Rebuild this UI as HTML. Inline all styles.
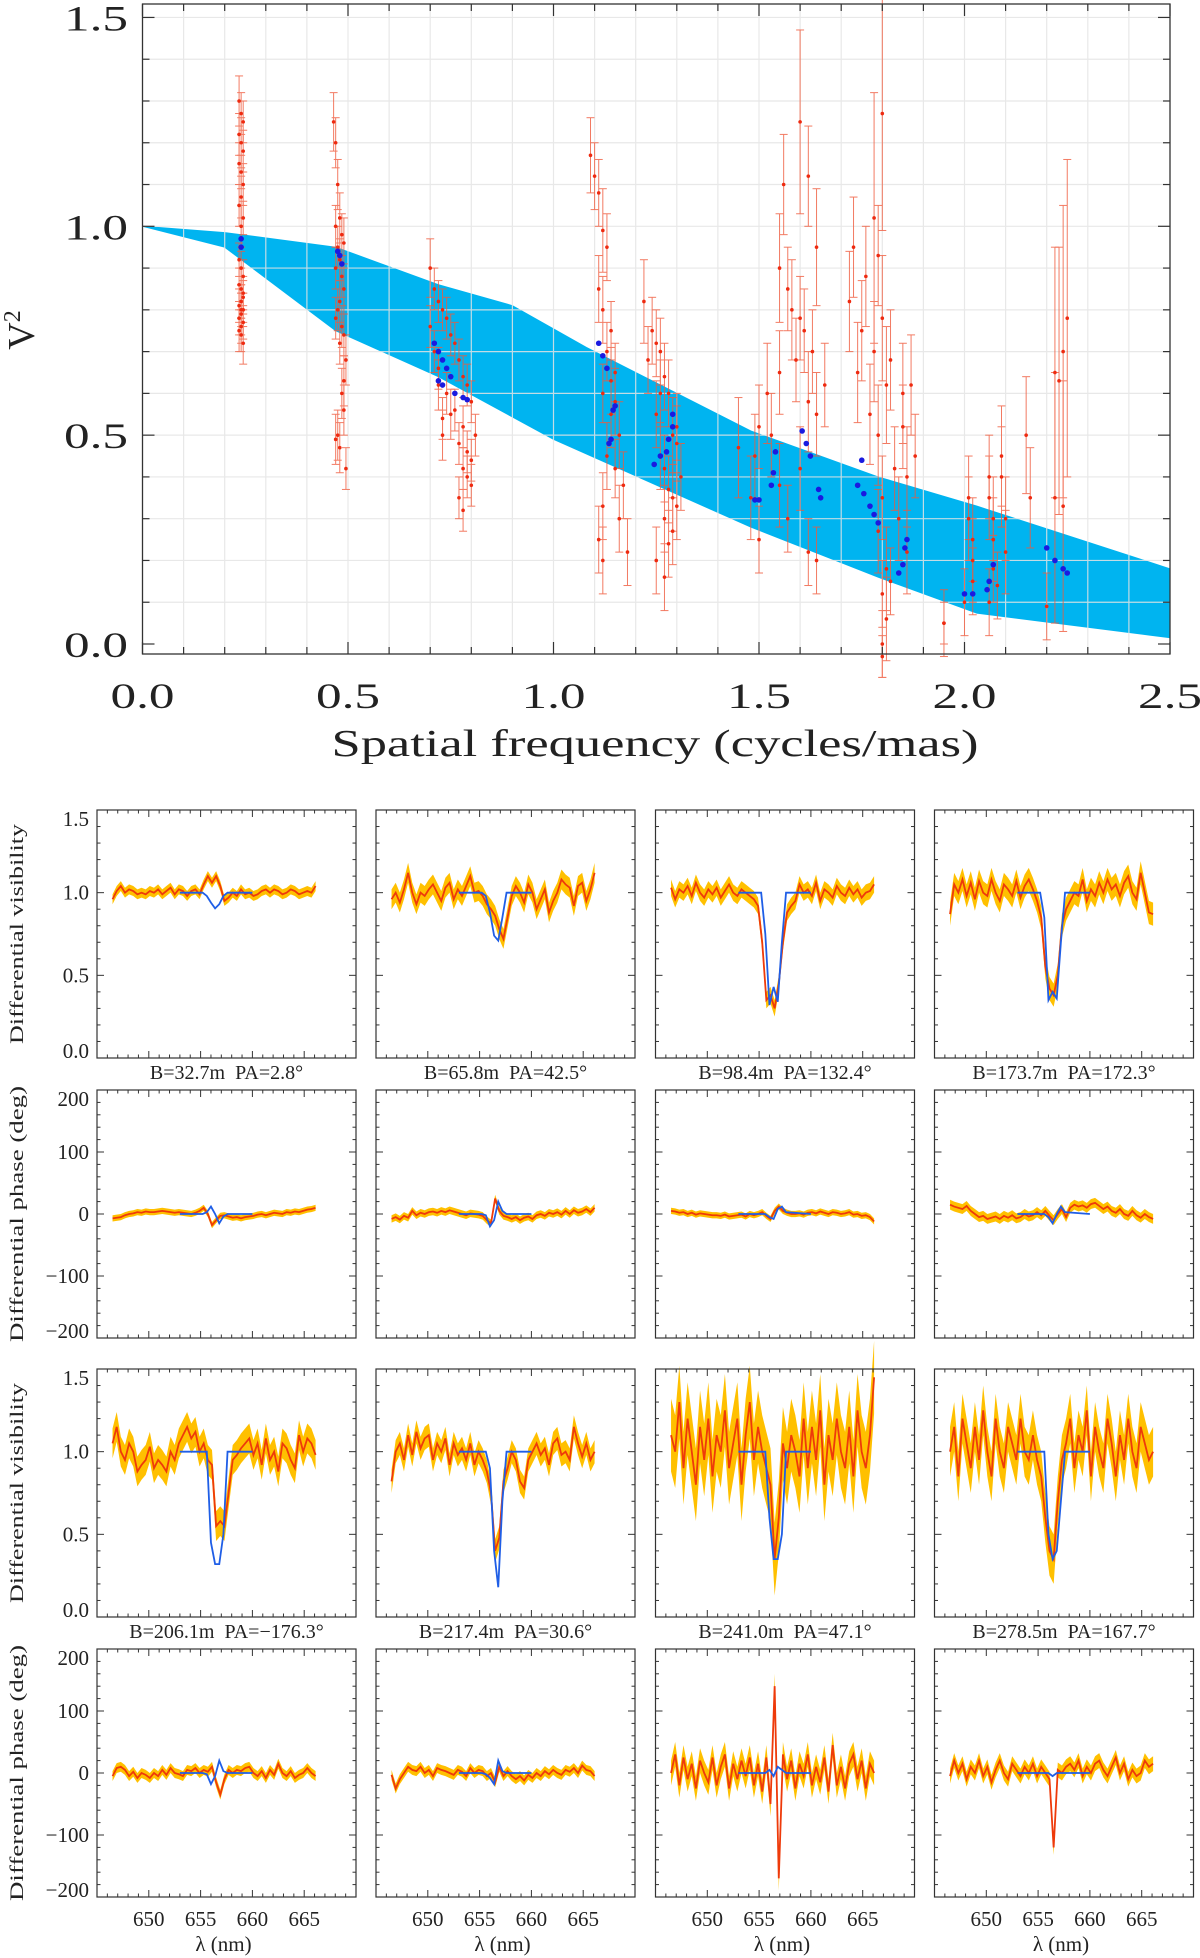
<!DOCTYPE html>
<html><head><meta charset="utf-8"><style>
html,body{margin:0;padding:0;background:#fff;}
svg{display:block;font-family:"Liberation Serif",serif;}
</style></head><body>
<svg id="fig" width="1200" height="1958" viewBox="0 0 1200 1958" xmlns="http://www.w3.org/2000/svg"></svg>
<script>
// ---------- Top chart data ----------
const bandFreq = [0,0.2,0.47,0.72,0.9,1.08,1.48,1.79,2.03,2.5];
const bandUpper = [1.0,0.985,0.95,0.86,0.81,0.71,0.51,0.40,0.33,0.18];
const bandLowerFreq = [0,0.2,0.47,0.72,1.0,1.48,1.79,2.03,2.5];
const bandLower = [1.0,0.95,0.75,0.64,0.49,0.28,0.16,0.074,0.015];
const sfFreq = [0.235,0.24,0.245,0.235,0.24,0.245,0.235,0.24,0.245,0.24,0.235,0.245,0.24,0.235,0.24,0.245,0.235,0.24,0.245,0.24,0.235,0.245,0.24,0.235,0.245,0.24,0.235,0.24,0.245,0.24,0.245,
0.465,0.47,0.475,0.48,0.47,0.485,0.49,0.475,0.48,0.47,0.485,0.49,0.48,0.475,0.47,0.485,0.49,0.48,0.495,0.49,0.485,0.49,0.475,0.47,0.48,0.495,
0.70,0.71,0.72,0.73,0.74,0.70,0.75,0.76,0.71,0.77,0.72,0.78,0.79,0.74,0.80,0.76,0.73,0.78,0.81,0.77,0.79,0.80,0.78,0.79,0.80,0.77,0.78,0.72,0.75,0.73,
1.09,1.10,1.11,1.12,1.13,1.11,1.12,1.14,1.13,1.15,1.12,1.14,1.16,1.13,1.15,1.17,1.12,1.16,1.11,1.12,1.18,1.14,1.15,
1.22,1.24,1.25,1.26,1.23,1.27,1.28,1.25,1.29,1.30,1.26,1.27,1.31,1.28,1.29,1.30,1.27,1.29,1.28,1.25,1.27,1.26,1.30,
1.60,1.62,1.56,1.64,1.55,1.57,1.58,1.60,1.61,1.63,1.59,1.55,1.66,1.52,1.62,1.64,1.50,1.53,1.45,1.49,1.60,1.55,1.48,1.57,1.50,1.62,1.64,
1.80,1.78,1.79,1.73,1.76,1.72,1.80,1.75,1.78,1.82,1.74,1.81,1.85,1.77,1.79,1.88,1.83,1.86,1.80,1.84,1.79,1.86,1.81,1.82,1.80,1.95,1.80,1.81,1.80,1.87,1.85,
1.95,2.00,2.01,2.01,2.02,2.02,2.02,2.06,2.06,2.07,2.07,2.07,2.06,2.09,2.09,2.10,2.10,2.08,2.15,2.16,2.20,2.22,2.23,2.22,2.24,2.25,2.24];
const sfV2 = [1.30,1.27,1.25,1.22,1.20,1.18,1.15,1.13,1.10,1.07,1.05,1.02,1.00,0.92,0.90,0.88,0.86,0.85,0.83,0.82,0.81,0.80,0.79,0.78,0.77,0.76,0.75,0.74,0.72,0.80,0.84,
1.25,1.20,1.10,1.02,1.00,0.98,0.96,0.95,0.92,0.90,0.88,0.85,0.82,0.80,0.78,0.76,0.74,0.72,0.68,0.63,0.60,0.56,0.50,0.49,0.47,0.42,
0.90,0.85,0.82,0.80,0.78,0.76,0.74,0.72,0.70,0.68,0.66,0.64,0.62,0.60,0.58,0.56,0.54,0.52,0.50,0.48,0.46,0.44,0.42,0.40,0.38,0.35,0.32,0.62,0.55,0.50,
1.17,1.12,1.08,0.99,0.95,0.85,0.80,0.75,0.70,0.65,0.60,0.55,0.50,0.45,0.42,0.38,0.33,0.30,0.25,0.20,0.22,0.63,0.58,
0.82,0.75,0.72,0.70,0.68,0.64,0.60,0.55,0.50,0.48,0.45,0.42,0.40,0.37,0.35,0.33,0.30,0.27,0.24,0.20,0.16,0.60,0.52,
1.25,1.12,1.10,0.95,0.90,0.85,0.80,0.78,0.75,0.70,0.68,0.65,0.62,0.60,0.58,0.55,0.52,0.50,0.47,0.45,0.42,0.38,0.35,0.30,0.25,0.22,0.20,
1.27,1.02,0.93,0.95,0.88,0.82,0.78,0.75,0.70,0.68,0.65,0.62,0.60,0.55,0.50,0.45,0.42,0.40,0.35,0.30,0.27,0.22,0.18,0.15,0.12,0.05,0.00,0.06,-0.03,0.62,0.52,
0.05,0.10,0.35,0.30,0.25,0.20,0.15,0.40,0.35,0.30,0.25,0.18,0.10,0.45,0.40,0.30,0.22,0.14,0.50,0.35,0.09,0.65,0.63,0.35,0.33,0.78,0.70];
const sfErr = [0.06,0.05,0.05,0.05,0.06,0.05,0.05,0.04,0.05,0.05,0.05,0.04,0.05,0.04,0.04,0.04,0.04,0.05,0.04,0.04,0.04,0.04,0.05,0.04,0.04,0.04,0.05,0.04,0.05,0.04,0.04,
0.07,0.06,0.06,0.06,0.05,0.05,0.06,0.05,0.05,0.05,0.05,0.06,0.05,0.05,0.05,0.05,0.05,0.05,0.06,0.06,0.06,0.06,0.06,0.06,0.06,0.05,
0.07,0.05,0.05,0.05,0.05,0.05,0.05,0.05,0.05,0.05,0.05,0.05,0.05,0.05,0.05,0.05,0.05,0.05,0.05,0.05,0.05,0.05,0.05,0.05,0.05,0.05,0.05,0.06,0.06,0.06,
0.09,0.08,0.08,0.10,0.08,0.08,0.08,0.07,0.07,0.07,0.07,0.08,0.08,0.08,0.07,0.08,0.08,0.08,0.08,0.08,0.08,0.08,0.08,
0.10,0.08,0.08,0.08,0.08,0.08,0.08,0.08,0.09,0.09,0.08,0.08,0.08,0.08,0.08,0.08,0.08,0.08,0.08,0.08,0.08,0.08,0.08,
0.22,0.12,0.12,0.14,0.13,0.10,0.12,0.10,0.10,0.10,0.10,0.10,0.10,0.12,0.12,0.10,0.10,0.10,0.12,0.10,0.10,0.10,0.10,0.08,0.08,0.08,0.08,
0.28,0.30,0.12,0.12,0.12,0.12,0.15,0.12,0.12,0.12,0.12,0.14,0.12,0.12,0.12,0.10,0.10,0.12,0.10,0.10,0.10,0.10,0.10,0.08,0.08,0.08,0.08,0.10,0.05,0.12,0.10,
0.05,0.08,0.10,0.10,0.10,0.10,0.08,0.10,0.10,0.10,0.10,0.08,0.08,0.12,0.12,0.10,0.10,0.08,0.14,0.12,0.08,0.30,0.32,0.30,0.30,0.38,0.35];
const modelFreq = [0.24,0.24,0.475,0.48,0.485,0.71,0.72,0.73,0.74,0.75,0.72,0.73,0.76,0.78,0.79,1.11,1.12,1.13,1.15,1.145,1.14,1.135,1.245,1.26,1.275,1.28,1.29,1.29,1.49,1.50,1.53,1.535,1.54,1.605,1.615,1.625,1.645,1.65,1.75,1.74,1.755,1.77,1.78,1.79,1.84,1.85,1.855,1.86,2.0,2.02,2.055,2.06,2.07,2.2,2.22,2.24,2.25];
const modelV2 = [0.97,0.95,0.94,0.93,0.91,0.72,0.70,0.68,0.66,0.64,0.63,0.62,0.60,0.59,0.585,0.72,0.69,0.66,0.57,0.56,0.49,0.48,0.43,0.45,0.46,0.49,0.52,0.55,0.345,0.345,0.38,0.41,0.46,0.51,0.48,0.45,0.37,0.35,0.44,0.38,0.36,0.33,0.31,0.29,0.17,0.19,0.23,0.25,0.12,0.12,0.13,0.15,0.19,0.23,0.20,0.18,0.17];
const xTicks = ["0.0","0.5","1.0","1.5","2.0","2.5"];
const yTicks = ["0.0","0.5","1.0","1.5"];

// ---------- Panel data ----------
const lamStart = 646.5, lamStep = 0.4;
const modelLam = [653,655.2,655.6,656.0,656.4,656.8,657.2,657.6,660];
const captions = ["B=32.7m  PA=2.8°","B=65.8m  PA=42.5°","B=98.4m  PA=132.4°","B=173.7m  PA=172.3°","B=206.1m  PA=\u2212176.3°","B=217.4m  PA=30.6°","B=241.0m  PA=47.1°","B=278.5m  PA=167.7°"];
const bandErr = [0.03,0.06,0.05,0.07,5,6,5,8,0.09,0.07,0.22,0.15,8,8,20,12];
const p1 = [0.96,1.01,1.04,1.00,1.02,1.01,0.99,1.00,0.99,1.01,1.00,1.02,0.99,1.01,1.03,0.99,1.02,1.01,0.98,1.01,1.02,0.99,1.05,1.10,1.06,1.10,1.04,0.95,0.97,1.00,0.98,1.02,0.99,1.00,0.98,0.99,1.01,1.02,1.00,1.02,1.01,0.99,1.00,1.02,1.01,0.99,1.00,1.01,1.00,1.04];
const p2 = [0.96,1.00,0.94,1.02,1.12,1.00,0.93,1.00,0.98,1.02,1.05,1.00,0.95,1.03,1.06,0.96,1.02,0.98,1.04,1.10,1.00,1.01,0.98,0.93,0.90,0.86,0.78,0.72,0.85,0.98,1.04,1.00,0.94,1.05,1.00,0.90,0.96,1.02,0.88,0.95,1.00,1.08,1.05,1.03,0.92,1.04,1.06,0.95,1.02,1.12];
const p3 = [1.03,0.96,1.02,1.00,1.04,0.98,1.06,1.00,0.97,1.02,0.99,1.03,0.97,1.01,1.05,1.00,0.98,1.02,1.00,0.98,0.96,0.92,0.70,0.35,0.38,0.30,0.45,0.70,0.88,0.92,0.95,1.05,1.00,1.02,0.98,1.06,0.95,1.02,1.00,0.97,1.04,1.00,0.98,1.03,0.99,1.02,0.97,1.00,1.01,1.05];
const p4 = [0.87,1.05,1.00,1.08,0.98,1.06,0.96,1.07,1.00,0.98,1.08,1.00,0.95,1.05,1.02,0.98,1.07,0.97,1.04,1.08,1.02,0.95,0.85,0.55,0.42,0.38,0.50,0.80,0.90,0.95,1.00,0.98,1.08,0.95,1.02,0.98,1.06,1.00,1.08,1.02,1.05,0.98,1.06,1.10,1.00,0.96,1.12,1.00,0.88,0.87];
const p5 = [-7,-6,-5,-2,0,1,3,2,4,3,3,4,5,4,3,2,3,2,1,0,2,5,10,0,-18,-10,-3,-2,-4,-6,-5,-7,-5,-4,-3,-1,0,-2,0,2,1,0,3,2,4,3,5,7,8,10];
const p6 = [-8,-5,-9,-3,-6,5,-2,2,0,3,4,2,5,3,6,4,2,0,-2,1,0,-1,-3,-10,-15,25,5,-3,-5,-8,-5,-10,-6,-4,-8,-2,0,-3,2,0,3,-1,5,0,6,2,4,8,3,10];
const p7 = [5,4,2,3,0,2,-1,1,0,-1,-2,-2,-3,-1,-4,-3,-2,-1,-4,0,-2,0,3,-3,-8,5,12,5,2,0,0,1,-1,2,3,1,4,2,0,3,2,0,1,3,-1,0,-3,-2,-5,-12];
const p8 = [15,12,10,8,13,5,0,-5,-3,-8,-6,-4,-8,-3,-6,-2,-7,-5,0,-4,-2,3,-2,5,-3,-10,0,8,-5,10,15,12,14,10,16,18,13,8,12,5,2,8,0,-3,5,-2,-6,0,-5,-8];
const p9 = [1.05,1.15,1.00,0.95,1.05,1.00,0.88,0.92,0.95,1.03,0.90,0.95,0.92,0.88,1.00,0.95,1.05,1.10,1.15,1.08,1.12,1.00,1.05,0.95,0.92,0.55,0.58,0.55,0.75,0.95,0.98,1.02,1.05,1.08,0.98,1.05,0.92,1.08,0.95,1.00,0.88,1.05,1.02,0.95,0.90,1.10,1.00,1.08,1.05,0.98];
const p10 = [0.82,1.00,1.05,0.95,1.10,0.98,1.12,1.02,1.08,1.10,0.95,1.05,1.00,1.08,0.92,1.05,0.98,1.02,0.95,1.05,0.92,1.00,0.95,0.88,0.75,0.40,0.48,0.82,0.90,1.00,0.95,0.82,0.78,0.95,1.00,1.05,0.98,1.02,0.92,1.05,1.08,0.98,1.00,0.95,1.15,1.05,0.97,1.05,0.95,1.00];
const p11 = [1.1,1.0,1.3,0.9,1.2,1.0,0.8,1.15,0.95,1.2,0.85,1.1,1.0,1.25,0.9,1.05,1.2,0.8,1.1,1.3,0.95,1.15,1.0,0.9,0.8,0.35,0.6,1.05,0.9,1.1,1.0,0.85,1.2,0.9,1.15,0.95,1.25,0.8,1.1,0.95,1.2,1.0,0.9,1.15,0.85,1.25,1.0,0.9,1.1,1.45];
const p12 = [1.0,1.15,0.85,1.2,1.05,0.9,1.15,0.95,1.25,1.0,0.85,1.2,1.0,0.9,1.15,1.05,0.95,1.2,1.0,0.95,1.1,0.95,0.85,0.6,0.4,0.35,0.7,0.95,1.05,1.2,0.9,1.1,1.0,1.25,0.85,1.15,1.0,0.9,1.2,1.05,0.85,1.1,0.95,1.2,1.0,0.9,1.15,1.05,0.95,1.0];
const p13 = [-5,8,10,5,-5,2,-8,0,-3,-8,0,-5,5,-3,8,0,-2,-5,5,3,8,0,5,2,10,-15,-35,-10,5,0,5,3,8,10,0,-5,3,-8,5,-3,15,0,-5,3,-8,-3,0,8,0,-5];
const p14 = [-3,-25,-10,0,10,5,3,10,0,5,-5,8,5,3,0,-3,5,2,-5,8,0,5,3,-5,0,-15,10,-5,3,-5,-10,-5,-12,-3,-8,0,-5,3,-2,5,0,-3,5,2,8,0,12,5,3,-5];
const p15 = [0,30,-20,25,-10,15,-25,20,0,-15,25,-20,10,30,-25,15,-10,20,-5,25,-20,15,-30,25,-50,140,-170,30,-10,20,-25,15,-5,30,-20,10,-15,25,-30,45,-20,10,-25,15,30,-10,20,-25,15,0];
const p16 = [-5,20,0,15,-10,10,0,20,-5,10,-15,5,20,0,-10,15,5,-5,10,0,15,-5,10,0,-10,-120,5,0,10,15,5,20,-5,10,0,15,20,5,-5,10,25,0,15,-10,5,-5,0,20,10,15];
const m1 = [1,1,0.98,0.94,0.905,0.93,0.98,1,1];
const m2 = [1,1,0.98,0.88,0.74,0.71,0.85,1,1];
const m3 = [1,1,0.75,0.32,0.43,0.34,0.7,1,1];
const m4 = [1,1,0.85,0.35,0.40,0.36,0.7,1,1];
const m5 = [0,0,3,12,0,-15,-4,0,0];
const m6 = [0,0,-2,-20,-10,20,5,0,0];
const m7 = [0,0,0,-5,-8,8,12,3,0];
const m8 = [0,0,0,-5,-15,0,12,3,0];
const m9 = [1,1,1,0.45,0.32,0.32,0.5,1,1];
const m10 = [1,1,1,0.9,0.4,0.18,0.7,1,1];
const m11 = [1,1,1,0.6,0.35,0.35,0.5,1,1];
const m12 = [1,1,1,0.5,0.35,0.4,0.7,1,1];
const m13 = [0,0,-2,-18,-5,20,3,0,0];
const m14 = [0,0,-2,-8,-18,20,3,0,0];
const m15 = [0,0,0,5,-5,10,5,0,0];
const m16 = [0,0,0,0,-5,0,0,0,0];
const lamTicks = ["650","655","660","665"];
const visTicks = ["0.0","0.5","1.0","1.5"];
const phaseTicks = ["\u2212200","\u2212100","0","100","200"];

const NS = "http://www.w3.org/2000/svg";
const svg = document.getElementById('fig');
function mk(tag, attrs, parent){
  const e = document.createElementNS(NS, tag);
  for (const k in attrs) e.setAttribute(k, attrs[k]);
  (parent||svg).appendChild(e);
  return e;
}

// ---------- Top chart ----------
const TX0=142.5, TX1=1170, TY0=4, TY1=654;
const sx = f => 142.5 + f*411;
const sy = v => 644 - v*417.7;
const topG = mk('g',{});


let pts = bandFreq.map((f,i)=>sx(f)+','+sy(bandUpper[i]));
for (let i=bandLowerFreq.length-1;i>=0;i--) pts.push(sx(bandLowerFreq[i])+','+sy(bandLower[i]));
const band = mk('polygon',{points:pts.join(' '),fill:'#00b4f0',stroke:'#00b4f0','stroke-width':1},topG);


const grid = mk('g',{stroke:'#e4e4e4','stroke-width':1.2,opacity:0.85},topG);


for (let k=1;k<25;k++){ mk('line',{x1:sx(k/10),x2:sx(k/10),y1:TY0,y2:TY1},grid); }
for (let k=1;k<=15;k++){ mk('line',{x1:TX0,x2:TX1,y1:sy(k/10),y2:sy(k/10)},grid); }
const errG = mk('g',{stroke:'#f05a3c','stroke-width':1,opacity:0.8},topG);


const ptG = mk('g',{fill:'#ee2a10'},topG);


sfFreq.forEach((f,i)=>{
  const x=sx(f), y=sy(sfV2[i]), e=sfErr[i]*417.7;
  mk('line',{x1:x,x2:x,y1:y-e,y2:y+e},errG);
  mk('line',{x1:x-4,x2:x+4,y1:y-e,y2:y-e},errG);
  mk('line',{x1:x-4,x2:x+4,y1:y+e,y2:y+e},errG);
  const c = mk('circle',{cx:x,cy:y,r:1.8},ptG);
  
  
});
const modG = mk('g',{fill:'#1a1ae0'},topG);


modelFreq.forEach((f,i)=>{
  const c = mk('circle',{cx:sx(f),cy:sy(modelV2[i]),r:2.8},modG);
  
  
});
const fr = mk('rect',{x:TX0,y:TY0,width:TX1-TX0,height:TY1-TY0,fill:'none',stroke:'#333','stroke-width':1.3},topG);


const tk = mk('g',{stroke:'#333','stroke-width':1.2},topG);
for (let k=0;k<=25;k++){ const x=sx(k/10), L=(k%5==0)?12:7; mk('line',{x1:x,x2:x,y1:TY1,y2:TY1-L},tk); mk('line',{x1:x,x2:x,y1:TY0,y2:TY0+L},tk); }
for (let k=0;k<=15;k++){ const y=sy(k/10), L=(k%5==0)?12:7; mk('line',{x1:TX0,x2:TX0+L,y1:y,y2:y},tk); mk('line',{x1:TX1,x2:TX1-L,y1:y,y2:y},tk); }
xTicks.forEach((t,i)=>{
  const e = mk('text',{x:sx(i*0.5),y:708,'font-size':36,'text-anchor':'middle',textLength:64,lengthAdjust:'spacingAndGlyphs',fill:'#222'},topG);
  e.textContent=t;
  
  
});
yTicks.forEach((t,i)=>{
  const e = mk('text',{x:128,y:sy(i*0.5)+13,'font-size':36,'text-anchor':'end',textLength:64,lengthAdjust:'spacingAndGlyphs',fill:'#222'},topG);
  e.textContent=t;
  
  
});
const xt = mk('text',{x:655,y:756,'font-size':38,'text-anchor':'middle',textLength:647,lengthAdjust:'spacingAndGlyphs',fill:'#222'},topG);
xt.textContent='Spatial frequency (cycles/mas)';


const yt = mk('text',{x:0,y:0,'font-size':38,'text-anchor':'middle',fill:'#222',transform:'translate(34,330) rotate(-90)'},topG);
yt.textContent='V';
const ytSup = mk('tspan',{dy:-14,'font-size':24},yt);
ytSup.textContent='2';



// ---------- Panels ----------
const colX = [97,376,655.5,934.5], rowY = [810,1090,1369,1649], PW=259, PH=248;
const series = [p1,p2,p3,p4,p5,p6,p7,p8,p9,p10,p11,p12,p13,p14,p15,p16];
const models = [m1,m2,m3,m4,m5,m6,m7,m8,m9,m10,m11,m12,m13,m14,m15,m16];
function drawPanel(idx){
  const r=Math.floor(idx/4), c=idx%4, isPhase=(r%2==1);
  const x0=colX[c], y0=rowY[r];
  const ymin=isPhase?-200:0, ymax=isPhase?200:1.5;
  const px = l => x0 + (l-645)/25*PW;
  const py = v => y0 + PH - (v-ymin)/(ymax-ymin)*PH;
  const g = mk('g',{});
  
  
  const d = series[idx], err = bandErr[idx];
  const lam = i => lamStart + lamStep*i;
  let bp = d.map((v,i)=>px(lam(i))+','+py(v+err));
  for (let i=d.length-1;i>=0;i--) bp.push(px(lam(i))+','+py(d[i]-err));
  const b = mk('polygon',{points:bp.join(' '),fill:'#ffc000'},g);
  
  
  const rl = mk('polyline',{points:d.map((v,i)=>px(lam(i))+','+py(v)).join(' '),fill:'none',stroke:'#ee3a0a','stroke-width':1.8},g);
  
  
  const m = models[idx];
  const bl = mk('polyline',{points:m.map((v,i)=>px(modelLam[i])+','+py(v)).join(' '),fill:'none',stroke:'#1f5ee6','stroke-width':1.8},g);
  
  
  const f = mk('rect',{x:x0,y:y0,width:PW,height:PH,fill:'none',stroke:'#333','stroke-width':1.2},g);
  
  
  const t = mk('g',{stroke:'#333','stroke-width':1},g);
  for (let l=646;l<670;l++){ const L=(l%5==0)?7:3.5; mk('line',{x1:px(l),x2:px(l),y1:y0+PH,y2:y0+PH-L},t); mk('line',{x1:px(l),x2:px(l),y1:y0,y2:y0+L},t); }
  const minor = isPhase?20:0.1, major=isPhase?100:0.5;
  const n = Math.round((ymax-ymin)/minor);
  for (let k=1;k<n;k++){ const v=ymin+k*minor; const isMaj=Math.abs(v/major-Math.round(v/major))<1e-6; const L=isMaj?7:3.5; mk('line',{x1:x0,x2:x0+L,y1:py(v),y2:py(v)},t); mk('line',{x1:x0+PW,x2:x0+PW-L,y1:py(v),y2:py(v)},t); }
  if (c==0){
    const labs = isPhase?phaseTicks:visTicks;
    labs.forEach((s,i)=>{
      const v = ymin + i*major;
      let yy = Math.min(Math.max(py(v), y0+9), y0+PH-7);
      const e = mk('text',{x:89,y:yy+7,'font-size':21,'text-anchor':'end',fill:'#222'},g);
      e.textContent=s;
      
      
    });
    const title = isPhase?'Differential phase (deg)':'Differential visibility';
    const len = isPhase?256:220;
    const e = mk('text',{x:0,y:0,'font-size':19,'text-anchor':'middle',textLength:len,lengthAdjust:'spacingAndGlyphs',fill:'#222',transform:'translate(23,'+(y0+PH/2)+') rotate(-90)'},g);
    e.textContent=title;
    
    
  }
  if (!isPhase){
    const e = mk('text',{x:x0+PW/2,y:y0+PH+21,'font-size':20,'text-anchor':'middle',fill:'#222',style:'white-space:pre'},g);
    e.textContent=captions[(r/2)*4+c];
    
    
  }
  if (r==3){
    lamTicks.forEach(s=>{
      const e = mk('text',{x:px(+s),y:1926,'font-size':21,'text-anchor':'middle',fill:'#222'},g);
      e.textContent=s;
      
      
    });
    const e = mk('text',{x:x0+PW/2-3,y:1951,'font-size':21,'text-anchor':'middle',fill:'#222'},g);
    e.textContent='λ (nm)';
    
    
  }
}
for (let i=0;i<16;i++) drawPanel(i);
</script>
</body></html>
